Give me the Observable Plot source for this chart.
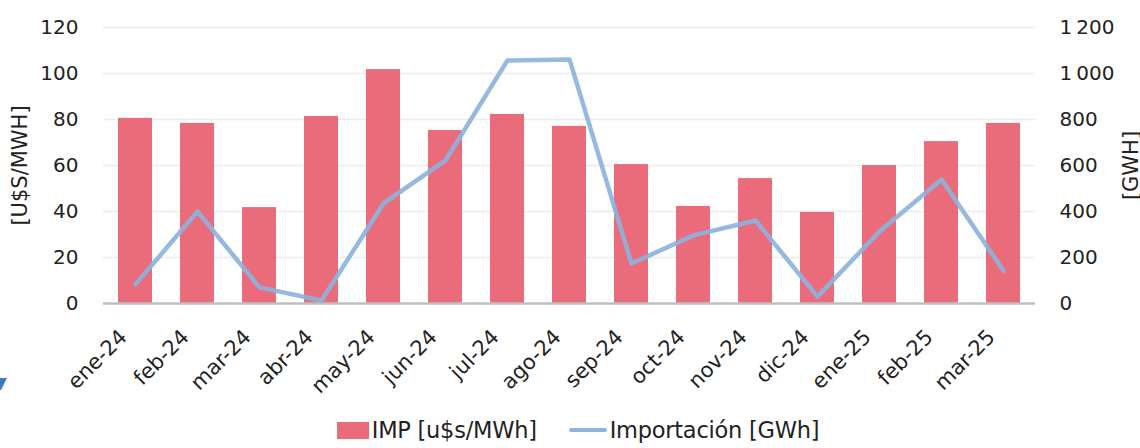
<!DOCTYPE html>
<html>
<head>
<meta charset="utf-8">
<script src="https://cdn.jsdelivr.net/npm/d3@7"></script>
<script src="https://cdn.jsdelivr.net/npm/@observablehq/plot@0.6"></script>
<style>
  body { margin: 0; background: #fff; width: 1140px; height: 448px; overflow: hidden; position: relative; font-family: "DejaVu Sans", sans-serif; }
  #legend { position: absolute; left: 0; top: 417px; width: 1140px; box-sizing: border-box; padding-left: 16px; display: flex; justify-content: center; align-items: center; font-size: 22.5px; color: #222; letter-spacing: -0.25px; }
  .item { display: flex; align-items: center; margin: 0 16px; }
  .sw-bar { width: 32px; height: 17px; background: #E8606F; opacity: 0.92; margin-right: 3px; }
  .sw-line { width: 38px; height: 4px; background: #8DB3DD; border-radius: 2px; margin-right: 3px; }
  #deco { position: absolute; left: 0; top: 378px; }
</style>
</head>
<body>
<div id="chart"></div>
<svg id="deco" width="8" height="14"><polygon points="0,0 7,0 1,12 0,12" fill="#3B7BC4"/></svg>
<div id="legend">
  <div class="item"><div class="sw-bar"></div><span>IMP [u$s/MWh]</span></div>
  <div class="item"><div class="sw-line"></div><span>Importación [GWh]</span></div>
</div>
<script>
const months = ["ene-24","feb-24","mar-24","abr-24","may-24","jun-24","jul-24","ago-24","sep-24","oct-24","nov-24","dic-24","ene-25","feb-25","mar-25"];
const impPrice = [80.5, 78.3, 41.7, 81.3, 101.7, 75.2, 82.2, 77.0, 60.4, 42.2, 54.3, 39.6, 60.0, 70.4, 78.3];
const importGWh = [83, 400, 70, 13, 435, 622, 1057, 1061, 174, 296, 361, 30, 313, 539, 143];
const leftTicks = [0, 20, 40, 60, 80, 100, 120];
const rightTicks = [0, 200, 400, 600, 800, 1000, 1200];

const data = months.map((m, i) => ({ m, imp: impPrice[i], gwh: importGWh[i] }));
const ratio = 10; // right axis value per left axis unit
const fmtThousands = v => d3.format(",")(v).replace(/,/g, "\u202F");

const chart = Plot.plot({
  width: 1140,
  height: 410,
  marginLeft: 103,
  marginRight: 105,
  marginTop: 27,
  marginBottom: 107,
  style: { fontFamily: "DejaVu Sans, sans-serif", fontSize: "20px", color: "#222", background: "transparent" },
  x: { domain: months, paddingInner: 0.45, paddingOuter: 0.225, label: null },
  y: { domain: [0, 120], label: null },
  marks: [
    Plot.gridY(leftTicks.filter(d => d > 0), { stroke: "#ececec", strokeOpacity: 1, strokeWidth: 1.5 }),
    Plot.barY(data, { x: "m", y: "imp", fill: "#E8606F", fillOpacity: 0.92 }),
    Plot.ruleY([0], { stroke: "#bfbfbf", strokeWidth: 2.5 }),
    Plot.lineY(data, { x: "m", y: d => d.gwh / ratio, stroke: "#8DB3DD", strokeWidth: 4.5, strokeOpacity: 0.92 }),
    Plot.axisY({ anchor: "left", ticks: leftTicks, tickSize: 0, tickPadding: 25, label: null, fontSize: 20 }),
    Plot.axisY({ anchor: "right", ticks: rightTicks.map(d => d / ratio), tickFormat: d => fmtThousands(d * ratio), tickSize: 0, tickPadding: 24, label: null, fontSize: 20 }),
    Plot.axisX({ tickSize: 0, tickPadding: 30, tickRotate: -45, label: null, fontSize: 21, dx: -12 }),
    Plot.text(["[U$S/MWH]"], { frameAnchor: "left", textAnchor: "middle", dx: -83, rotate: -90, fontSize: 21, fill: "#222" }),
    Plot.text(["[GWH]"], { frameAnchor: "right", textAnchor: "middle", dx: 96, rotate: -90, fontSize: 21, fill: "#222" })
  ]
});
document.getElementById("chart").appendChild(chart);
</script>
</body>
</html>
